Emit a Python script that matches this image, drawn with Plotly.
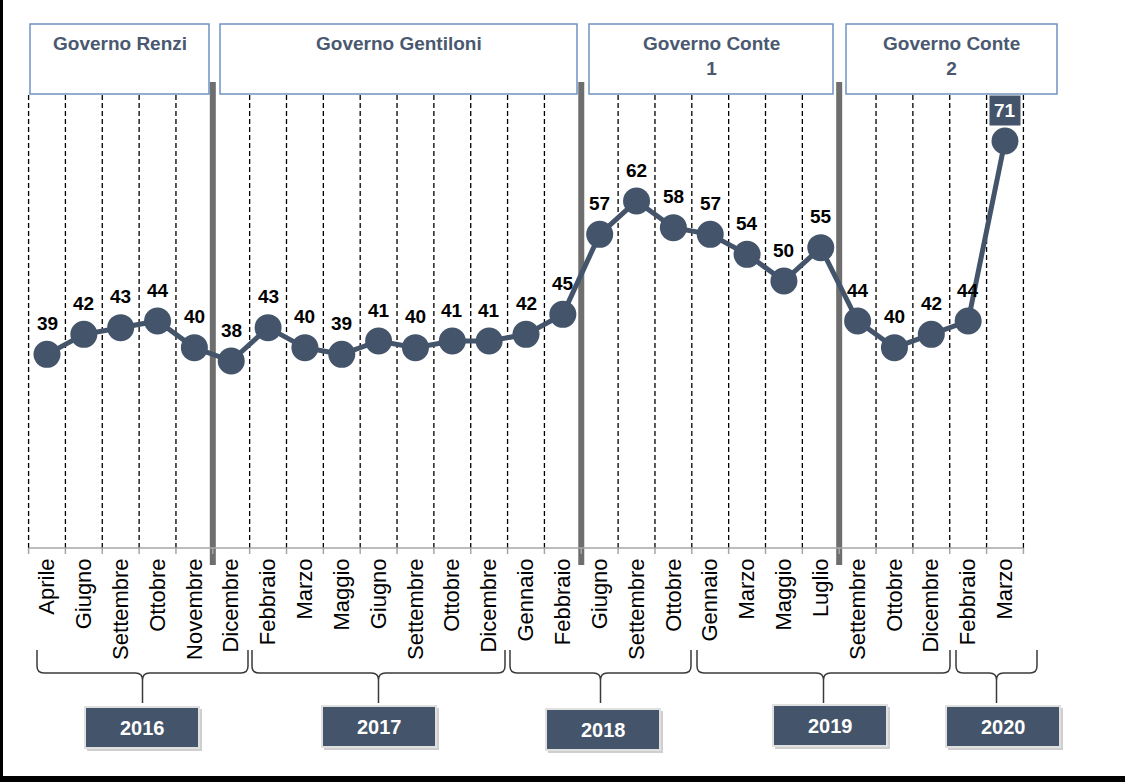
import plotly.graph_objects as go

# --- data -------------------------------------------------------------
months = ["Aprile", "Giugno", "Settembre", "Ottobre", "Novembre", "Dicembre",
          "Febbraio", "Marzo", "Maggio", "Giugno", "Settembre", "Ottobre", "Dicembre",
          "Gennaio", "Febbraio", "Giugno", "Settembre", "Ottobre",
          "Gennaio", "Marzo", "Maggio", "Luglio", "Settembre", "Ottobre", "Dicembre",
          "Febbraio", "Marzo"]
values = [39, 42, 43, 44, 40, 38, 43, 40, 39, 41, 40, 41, 41, 42, 45,
          57, 62, 58, 57, 54, 50, 55, 44, 40, 42, 44, 71]
years = ["2016", "2017", "2018", "2019", "2020"]
year_counts = [6, 7, 5, 7, 2]
governments = ["Governo Renzi", "Governo Gentiloni", "Governo Conte<br>1", "Governo Conte<br>2"]
gov_counts = [5, 10, 7, 5]

# --- layout constants (pixels) ----------------------------------------
W, H = 1125, 782
PLOT_BOTTOM = 548          # pixel row of the category axis
X0_PX, STEP_PX = 47, 36.846
Y_REF_VAL, Y_REF_PX, PX_PER_UNIT = 38, 361, 220 / 33

NAVY = "#44546a"
GOV_BORDER = "#6f93c0"
FONT = "Liberation Sans, Arial, sans-serif"

GOV_BOX_PX = [(30, 209), (220, 577), (589, 833), (846, 1057)]
GOV_BOX_Y = (24, 94)
BRACE_PX = [(37, 248), (252, 505), (510, 691), (697, 950), (956, 1037)]
YEAR_BOX_PX = [(85, 707), (322, 706), (546, 709), (773, 705), (946, 706)]
YEAR_BOX_SIZE = (114, 41)


def px(x):
    return x / W


def py(y):
    return (PLOT_BOTTOM - y) / PLOT_BOTTOM


n = len(values)
xs = list(range(n))
x_range = [-X0_PX / STEP_PX, (W - X0_PX) / STEP_PX]
y_range = [Y_REF_VAL - (PLOT_BOTTOM - Y_REF_PX) / PX_PER_UNIT,
           Y_REF_VAL + Y_REF_PX / PX_PER_UNIT]

fig = go.Figure()
shapes, annotations = [], []

# government boundaries (cumulative counts)
gov_bounds = []
acc = 0
for c in gov_counts[:-1]:
    acc += c
    gov_bounds.append(acc - 0.5)

# vertical dashed column separators and thick government separators
for b in [i - 0.5 for i in range(n + 1)]:
    if b in gov_bounds:
        continue
    shapes.append(dict(type="line", xref="x", yref="paper", x0=b, x1=b,
                       y0=py(PLOT_BOTTOM), y1=py(95),
                       line=dict(color="black", width=1.3, dash="5px,3px"), layer="below"))
for b in gov_bounds:
    shapes.append(dict(type="line", xref="x", yref="paper", x0=b, x1=b,
                       y0=py(565), y1=py(82),
                       line=dict(color="#6e6e6e", width=6), layer="below"))

# category axis line with small ticks
shapes.append(dict(type="line", xref="x", yref="paper", x0=-0.5, x1=n - 0.5,
                   y0=0, y1=0, line=dict(color="#a6a6a6", width=1.5)))
for i in range(n + 1):
    shapes.append(dict(type="line", xref="x", yref="paper", x0=i - 0.5, x1=i - 0.5,
                       y0=0, y1=py(PLOT_BOTTOM + 6), line=dict(color="#a6a6a6", width=1.5)))

# government header boxes
for name, (gx0, gx1) in zip(governments, GOV_BOX_PX):
    shapes.append(dict(type="rect", xref="paper", yref="paper",
                       x0=px(gx0), x1=px(gx1), y0=py(GOV_BOX_Y[1]), y1=py(GOV_BOX_Y[0]),
                       fillcolor="white", line=dict(color=GOV_BORDER, width=1.5)))
    annotations.append(dict(xref="paper", yref="paper", x=px((gx0 + gx1) / 2), y=py(31),
                            text=f"<b>{name}</b>", showarrow=False, xanchor="center",
                            yanchor="top", align="center",
                            font=dict(family=FONT, size=19, color="#4a5870")))

# year braces
for (bx0, bx1) in BRACE_PX:
    xm = (bx0 + bx1) / 2
    top, mid, tip, r = 650, 673, 703, 7
    p = lambda x, y: f"{px(x):.5f},{py(y):.5f}"
    path = (f"M {p(bx0, top)} L {p(bx0, mid - r)} Q {p(bx0, mid)} {p(bx0 + r, mid)} "
            f"L {p(xm - r, mid)} Q {p(xm, mid)} {p(xm, mid + r)} L {p(xm, tip)} "
            f"M {p(xm, mid + r)} Q {p(xm, mid)} {p(xm + r, mid)} "
            f"L {p(bx1 - r, mid)} Q {p(bx1, mid)} {p(bx1, mid - r)} L {p(bx1, top)}")
    shapes.append(dict(type="path", xref="paper", yref="paper", path=path,
                       line=dict(color="#3a3a3a", width=1.5)))

# year boxes
bw, bh = YEAR_BOX_SIZE
for yr, (yx, yy) in zip(years, YEAR_BOX_PX):
    shapes.append(dict(type="rect", xref="paper", yref="paper",
                       x0=px(yx + 2), x1=px(yx + bw + 3), y0=py(yy + bh + 3), y1=py(yy + 2),
                       fillcolor="#cfcfcf", line=dict(width=0)))
    shapes.append(dict(type="rect", xref="paper", yref="paper",
                       x0=px(yx), x1=px(yx + bw), y0=py(yy + bh), y1=py(yy),
                       fillcolor=NAVY, line=dict(color="#e0e0e0", width=2)))
    annotations.append(dict(xref="paper", yref="paper", x=px(yx + bw / 2), y=py(yy + bh / 2),
                            xanchor="center", yanchor="middle",
                            text=f"<b>{yr}</b>", showarrow=False,
                            font=dict(family=FONT, size=20, color="white")))

# outer frame (left and bottom edges)
shapes.append(dict(type="line", xref="paper", yref="paper", x0=px(1.5), x1=px(1.5),
                   y0=py(H), y1=py(0), line=dict(color="black", width=3)))
shapes.append(dict(type="line", xref="paper", yref="paper", x0=0, x1=1,
                   y0=py(779), y1=py(779), line=dict(color="black", width=6)))

# the series
fig.add_trace(go.Scatter(x=xs, y=values, mode="lines+markers",
                         line=dict(color=NAVY, width=5),
                         marker=dict(color=NAVY, size=27),
                         hoverinfo="skip", cliponaxis=False))

# value labels; the last one is highlighted
for i, v in enumerate(values):
    last = i == n - 1
    annotations.append(dict(x=i, y=v, xref="x", yref="y", yshift=31,
                            xanchor="center", yanchor="middle",
                            text=f"<b>{v}</b>", showarrow=False,
                            font=dict(family=FONT, size=19, color="white" if last else "black"),
                            bgcolor=NAVY if last else None,
                            borderpad=4 if last else 0))

fig.update_layout(
    width=W, height=H,
    margin=dict(l=0, r=0, t=0, b=H - PLOT_BOTTOM, pad=0),
    paper_bgcolor="white", plot_bgcolor="white",
    showlegend=False,
    shapes=shapes, annotations=annotations,
    xaxis=dict(range=x_range, tickmode="array", tickvals=xs, ticktext=months,
               tickangle=-90, ticks="", ticklabelstandoff=5,
               tickfont=dict(family=FONT, size=22, color="black"),
               showgrid=False, zeroline=False, showline=False, fixedrange=True),
    yaxis=dict(range=y_range, visible=False, fixedrange=True),
)

fig.write_html("out.html")
